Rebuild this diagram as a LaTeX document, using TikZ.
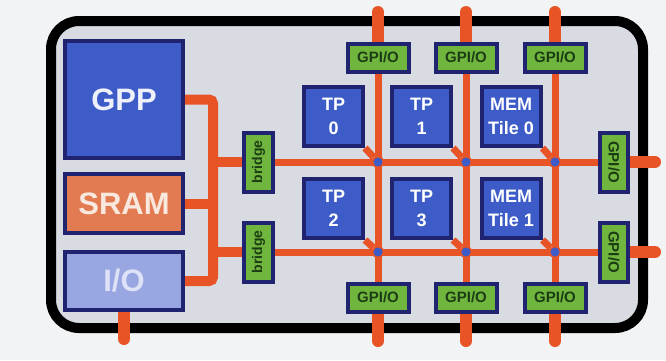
\documentclass[tikz,border=0pt]{standalone}
\usepackage{fontspec}
\setmainfont{Liberation Sans}
\usetikzlibrary{backgrounds}
\usepackage{xcolor}

\definecolor{navy}{RGB}{32,36,112}
\definecolor{tileblue}{RGB}{62,92,200}
\definecolor{sramorange}{RGB}{226,122,82}
\definecolor{ioblue}{RGB}{152,166,226}
\definecolor{gpiogreen}{RGB}{112,182,62}
\definecolor{gpiotext}{RGB}{28,60,20}
\definecolor{busorange}{RGB}{232,84,38}
\definecolor{panelgrey}{RGB}{216,219,226}
\definecolor{paper}{RGB}{242,243,245}

\tikzset{
  unit/.style={draw=navy, line width=4pt, minimum width=118pt, inner sep=0pt,
    font=\bfseries\fontsize{31}{34}\selectfont},
  tile/.style={draw=navy, line width=4pt, fill=tileblue, minimum width=59pt,
    minimum height=59pt, inner sep=0pt, text=white, align=center,
    font=\bfseries\fontsize{18}{24}\selectfont},
  gpio/.style={draw=navy, line width=4pt, fill=gpiogreen, minimum width=61pt,
    minimum height=28pt, inner sep=0pt, text=gpiotext,
    font=\bfseries\fontsize{15}{15}\selectfont},
  bridgebox/.style={gpio, minimum width=59pt, minimum height=29pt,
    font=\bfseries\fontsize{14}{14}\selectfont},
  cross/.style={circle, fill=tileblue, draw=busorange, line width=1.5pt,
    minimum size=11pt, inner sep=0pt},
  bus/.style={busorange, line width=7pt},
  leftbus/.style={busorange, line width=10pt},
  stub/.style={busorange, line width=12pt, line cap=round}
}

\begin{document}
\begin{tikzpicture}[x=1pt,y=-1pt]
  % Same Bounding Box
  \useasboundingbox (0,0) rectangle (666,360);

  % Host side
  \node[unit, fill=tileblue, minimum height=117pt, text={rgb,255:red,238;green,240;blue,250}] (gpp) at (124,99.5) {GPP};
  \node[unit, fill=sramorange, minimum height=59pt, text={rgb,255:red,248;green,232;blue,222}] (sram) at (124,203.5) {SRAM};
  \node[unit, fill=ioblue, minimum height=58pt, text={rgb,255:red,222;green,226;blue,246}] (io) at (124,281) {I/O};
  \node[bridgebox, rotate=90] (br1) at (258.5,162) {bridge};
  \node[bridgebox, rotate=90] (br2) at (258.5,252) {bridge};

  % Tiles
  \node[tile] (tp0) at (333.5,116.5) {TP\\0};
  \node[tile] (tp1) at (421.5,116.5) {TP\\1};
  \node[tile] (mem0) at (511,116.5) {MEM\\Tile 0};
  \node[tile] (tp2) at (333.5,208.5) {TP\\2};
  \node[tile] (tp3) at (421.5,208.5) {TP\\3};
  \node[tile] (mem1) at (511,208.5) {MEM\\Tile 1};

  % GPI/O ports
  \foreach \i/\x in {1/378,2/466,3/555} {
    \node[gpio] (gt\i) at (\x,57.5) {GPI/O};
    \node[gpio] (gb\i) at (\x,297.5) {GPI/O};
    \node[cross] (cu\i) at (\x,162) {};
    \node[cross] (cl\i) at (\x,252) {};
    \coordinate (ts\i) at (\x,12);
    \coordinate (bs\i) at (\x,341);
  }
  \node[gpio, rotate=-90, minimum width=59pt] (rg1) at (614,162) {GPI/O};
  \node[gpio, rotate=-90, minimum width=59pt] (rg2) at (614,252) {GPI/O};
  \coordinate (rs1) at (655,162);
  \coordinate (rs2) at (655,252);
  \coordinate (spine) at (213,281);
  \coordinate (ios) at (124,339);

  \begin{scope}[on background layer]
    % Paper and panel
    \fill[paper] (0,0) rectangle (666,360);
    \draw[line width=10pt, fill=panelgrey, rounded corners=28pt] (51,21) rectangle (643,328);
    % Host bus
    \draw[leftbus, rounded corners=4pt] (gpp.east) -| (spine) -- (io.east);
    \draw[leftbus] (sram.east) -- (sram.east -| spine);
    \draw[leftbus] (br1.north -| spine) -- (br1.north);
    \draw[leftbus] (br2.north -| spine) -- (br2.north);
    \draw[stub] (io.south) -- (ios);
    % Mesh
    \foreach \i in {1,2,3} {
      \draw[stub] (ts\i) -- (gt\i.north);
      \draw[bus] (gt\i.south) -- (gb\i.north);
      \draw[stub] (gb\i.south) -- (bs\i);
    }
    \draw[bus] (br1.south) -- (rg1.south);
    \draw[bus] (br2.south) -- (rg2.south);
    \draw[stub] (rg1.north) -- (rs1);
    \draw[stub] (rg2.north) -- (rs2);
    \draw[bus] (tp0.south east) -- (cu1);
    \draw[bus] (tp1.south east) -- (cu2);
    \draw[bus] (mem0.south east) -- (cu3);
    \draw[bus] (tp2.south east) -- (cl1);
    \draw[bus] (tp3.south east) -- (cl2);
    \draw[bus] (mem1.south east) -- (cl3);
  \end{scope}
\end{tikzpicture}
\end{document}
